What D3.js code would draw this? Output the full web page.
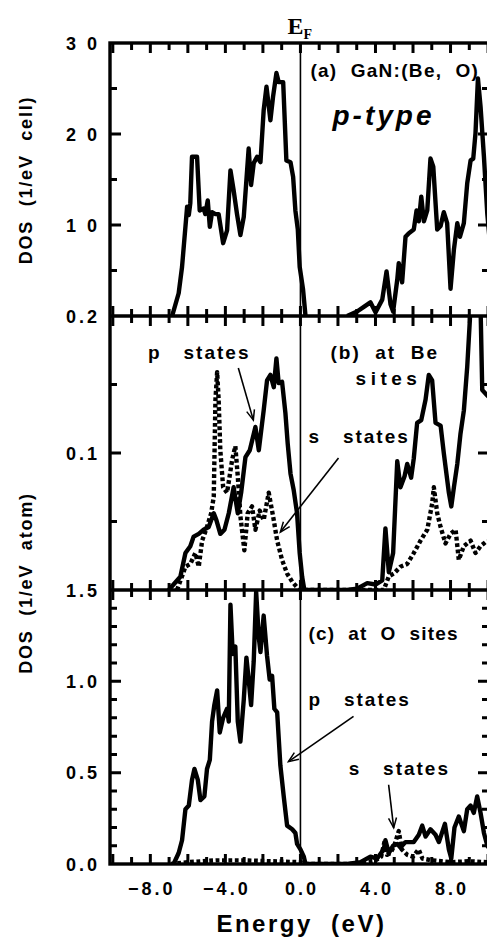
<!DOCTYPE html>
<html>
<head>
<meta charset="utf-8">
<script src="https://cdn.jsdelivr.net/npm/d3@7"></script>
<style>
body { margin: 0; background: #fff; }
svg text { font-family: "Liberation Sans", Arial, sans-serif; font-weight: bold; fill: #000; white-space: pre; }
</style>
</head>
<body>
<svg id="chart" width="487" height="938"></svg>
<script>
const ENERGY_DOMAIN = [-10.15, 10.05];
const energyLabels = [-8, -4, 0, 4, 8];
const energyMajor = [-10, -8, -6, -4, -2, 0, 2, 4, 6, 8, 10];
const energyMinor = [-9, -7, -5, -3, -1, 1, 3, 5, 7, 9];

// (a) total DOS of GaN:(Be, O)
const totalValence = [[-6.84,0],[-6.49,2.5],[-6.31,5.4],[-6.13,9.8],[-6.04,12.0],[-5.95,11.1],[-5.87,12.4],[-5.78,17.5],[-5.51,17.5],[-5.37,11.6],[-5.16,11.8],[-5.07,11.2],[-4.94,12.7],[-4.83,9.8],[-4.71,11.4],[-4.53,11.2],[-4.36,11.2],[-4.12,8.0],[-3.91,9.4],[-3.73,16.0],[-3.56,13.8],[-3.38,11.2],[-3.2,8.9],[-3.02,10.9],[-2.76,18.4],[-2.63,14.4],[-2.49,16.8],[-2.31,17.5],[-2.13,16.9],[-1.96,22.6],[-1.81,25.2],[-1.6,21.5],[-1.46,24.1],[-1.28,26.7],[-1.16,25.7],[-0.92,25.7],[-0.75,17.1],[-0.53,16.9],[-0.39,15.3],[-0.27,11.6],[-0.14,9.5],[-0.04,5.4],[0.14,2.9],[0.27,0]];
const totalConduction = [[2.49,0],[3.02,0.5],[3.38,1.0],[3.73,1.5],[4.0,0.4],[4.36,1.8],[4.59,4.9],[4.8,1.3],[4.94,0.5],[5.16,4.0],[5.24,5.8],[5.42,3.7],[5.6,8.7],[5.78,9.1],[6.04,9.5],[6.19,11.6],[6.31,10.4],[6.44,13.1],[6.58,10.4],[6.76,11.6],[6.93,17.3],[7.08,16.4],[7.29,9.5],[7.47,9.9],[7.64,11.4],[7.82,10.2],[8.0,3.0],[8.18,7.3],[8.36,10.2],[8.5,8.7],[8.71,10.2],[8.89,14.6],[9.07,17.1],[9.21,17.3],[9.33,20.1],[9.46,26.1],[9.6,23.0],[9.78,17.5],[9.96,11.2],[10.1,8.0]];

// (b) Be sites
const beP = [[-7.02,0],[-6.4,0.0097],[-6.13,0.027],[-5.87,0.032],[-5.69,0.039],[-5.42,0.041],[-5.16,0.044],[-4.89,0.046],[-4.62,0.056],[-4.48,0.051],[-4.27,0.041],[-4.05,0.044],[-3.82,0.056],[-3.56,0.075],[-3.34,0.056],[-3.16,0.071],[-2.93,0.097],[-2.7,0.102],[-2.4,0.119],[-2.22,0.102],[-1.96,0.131],[-1.78,0.153],[-1.6,0.157],[-1.42,0.148],[-1.28,0.169],[-1.16,0.151],[-0.98,0.152],[-0.8,0.129],[-0.68,0.107],[-0.53,0.085],[-0.36,0.073],[-0.18,0.056],[-0.04,0.027],[0.09,0.0097],[0.21,0],
  [2.49,0],[3.02,0.001],[3.56,0.005],[4.0,0.004],[4.36,0.007],[4.53,0.045],[4.71,0.013],[4.94,0.027],[5.16,0.094],[5.33,0.075],[5.55,0.083],[5.69,0.092],[5.9,0.082],[6.04,0.096],[6.22,0.122],[6.44,0.124],[6.67,0.139],[6.84,0.157],[7.02,0.153],[7.2,0.122],[7.47,0.12],[7.64,0.1],[7.91,0.071],[8.04,0.061],[8.18,0.075],[8.36,0.092],[8.53,0.114],[8.71,0.131],[8.89,0.163],[9.03,0.197],[9.1,0.24],[9.55,0.24],[9.69,0.146],[9.96,0.142],[10.1,0.14]];
const beS = [[-6.58,0],[-6.31,0.01],[-6.13,0.017],[-5.87,0.019],[-5.6,0.027],[-5.42,0.017],[-5.24,0.036],[-4.98,0.046],[-4.76,0.056],[-4.62,0.068],[-4.53,0.139],[-4.44,0.159],[-4.36,0.139],[-4.27,0.102],[-4.12,0.075],[-3.91,0.071],[-3.64,0.095],[-3.47,0.105],[-3.34,0.083],[-3.2,0.054],[-2.99,0.029],[-2.81,0.056],[-2.58,0.061],[-2.4,0.044],[-2.17,0.058],[-1.96,0.051],[-1.69,0.071],[-1.46,0.054],[-1.24,0.036],[-0.98,0.022],[-0.71,0.012],[-0.44,0.006],[-0.18,0.002],[0,0],
  [4.44,0],[4.71,0.01],[4.98,0.012],[5.33,0.017],[5.69,0.019],[6.04,0.027],[6.4,0.036],[6.76,0.044],[7.02,0.063],[7.11,0.075],[7.29,0.056],[7.47,0.046],[7.73,0.034],[8.0,0.041],[8.27,0.044],[8.44,0.022],[8.71,0.032],[9.07,0.036],[9.33,0.027],[9.6,0.032],[9.96,0.036]];

// (c) O sites
const oP = [[-6.76,0],[-6.49,0.06],[-6.31,0.13],[-6.13,0.30],[-5.95,0.32],[-5.78,0.46],[-5.65,0.52],[-5.47,0.46],[-5.33,0.35],[-5.12,0.37],[-4.98,0.52],[-4.83,0.57],[-4.71,0.78],[-4.59,0.87],[-4.44,0.95],[-4.3,0.72],[-4.12,0.80],[-3.91,0.85],[-3.82,0.78],[-3.73,1.42],[-3.61,1.15],[-3.47,1.19],[-3.34,0.78],[-3.2,0.67],[-3.02,0.90],[-2.88,1.13],[-2.76,1.01],[-2.63,0.87],[-2.49,1.11],[-2.36,1.49],[-2.22,1.24],[-2.13,1.16],[-1.96,1.36],[-1.78,1.14],[-1.64,1.01],[-1.51,1.03],[-1.39,0.85],[-1.24,0.83],[-1.07,0.54],[-0.89,0.37],[-0.71,0.21],[-0.44,0.19],[-0.27,0.17],[-0.18,0.11],[0,0.08],[0.18,0.04],[0.27,0],
  [2.49,0],[3.2,0.01],[3.73,0.04],[4.09,0.03],[4.44,0.08],[4.53,0.13],[4.71,0.06],[4.94,0.1],[5.16,0.11],[5.33,0.09],[5.6,0.12],[6.04,0.12],[6.31,0.16],[6.49,0.21],[6.67,0.15],[6.93,0.19],[7.2,0.16],[7.38,0.12],[7.7,0.22],[7.91,0.08],[8.04,0.03],[8.21,0.2],[8.44,0.26],[8.71,0.18],[8.89,0.3],[9.07,0.32],[9.24,0.28],[9.42,0.37],[9.6,0.28],[9.78,0.17],[9.96,0.1],[10.1,0.08]];
const oS = [[-6.9,0],[-6.0,0.01],[-4.5,0.02],[-3.0,0.02],[-1.5,0.015],[0,0.01],[0.3,0],
  [3.0,0],[3.5,0.01],[4.0,0.02],[4.3,0.04],[4.5,0.13],[4.62,0.05],[4.8,0.06],[5.0,0.1],[5.24,0.18],[5.4,0.08],[5.7,0.05],[6.0,0.04],[6.3,0.08],[6.5,0.03],[7.0,0.02],[7.5,0.015],[8.0,0.01],[9.0,0.015],[10.0,0.01]];

const panelDomains = [[0, 30], [0, 0.2], [0, 1.5]];
const tickValues = [[30, 20, 10], [0.2, 0.1], [1.5, 1.0, 0.5, 0.0]];
const tickLabels = [["3 0", "2 0", "1 0"], ["0.2", "0.1"], ["1.5", "1.0", "0.5", "0.0"]];
const majorTicks = [[10, 20], [0.1], [0.5, 1.0]];
const minorTicks = [[5, 15, 25], [0.05, 0.15], [0.1, 0.2, 0.3, 0.4, 0.6, 0.7, 0.8, 0.9, 1.1, 1.2, 1.3, 1.4]];

const svg = d3.select("#chart");
const left = 110, right = 489;
const bands = [[43, 316], [316, 590], [590, 864]];

const x = d3.scaleLinear().domain(ENERGY_DOMAIN).range([left, right]);
const ys = bands.map(function(b, i) {
    return d3.scaleLinear().domain(panelDomains[i]).range([b[1], b[0]]);
});

const defs = svg.append("defs");
bands.forEach(function(b, i) {
    defs.append("clipPath").attr("id", "clip" + i)
        .append("rect").attr("x", left).attr("y", b[0]).attr("width", right - left).attr("height", b[1] - b[0]);
});
defs.append("marker").attr("id", "arrow")
    .attr("viewBox", "-12 -6 14 12").attr("refX", 0).attr("refY", 0)
    .attr("markerWidth", 14).attr("markerHeight", 12)
    .attr("markerUnits", "userSpaceOnUse").attr("orient", "auto")
    .append("path").attr("d", "M-10,-4L0,0L-10,4")
    .attr("fill", "none").attr("stroke", "#000").attr("stroke-width", 1.5);

function drawCurve(i, data, dotted) {
    var line = d3.line()
        .x(function(d) { return x(d[0]); })
        .y(function(d) { return ys[i](d[1]); });
    svg.append("path")
        .datum(data)
        .attr("clip-path", "url(#clip" + i + ")")
        .attr("d", line)
        .attr("fill", "none")
        .attr("stroke", "#000")
        .attr("stroke-width", 4.4)
        .attr("stroke-linejoin", "round")
        .attr("stroke-dasharray", dotted ? "3.8 2.6" : null);
}

drawCurve(0, totalValence);
drawCurve(0, totalConduction);
drawCurve(1, beS, true);
drawCurve(1, beP);
drawCurve(2, oS, true);
drawCurve(2, oP);

// frame
svg.append("rect")
    .attr("x", left).attr("y", bands[0][0])
    .attr("width", right - left).attr("height", bands[2][1] - bands[0][0])
    .attr("fill", "none").attr("stroke", "#000").attr("stroke-width", 3.4);
[bands[1][0], bands[2][0]].forEach(function(yy) {
    svg.append("line").attr("x1", left).attr("x2", right).attr("y1", yy).attr("y2", yy)
        .attr("stroke", "#000").attr("stroke-width", 3.4);
});

// inward ticks, one path per panel
bands.forEach(function(b, i) {
    var y = ys[i];
    var p = d3.path();
    energyMajor.concat(energyMinor).forEach(function(e) {
        var len = energyMajor.indexOf(e) >= 0 ? 10 : 7;
        p.moveTo(x(e), b[0]); p.lineTo(x(e), b[0] + len);
        p.moveTo(x(e), b[1]); p.lineTo(x(e), b[1] - len);
    });
    majorTicks[i].concat(minorTicks[i]).forEach(function(v) {
        var len = majorTicks[i].indexOf(v) >= 0 ? 11 : 7;
        p.moveTo(left, y(v)); p.lineTo(left + len, y(v));
        p.moveTo(right, y(v)); p.lineTo(right - len, y(v));
    });
    svg.append("path")
        .attr("d", p.toString())
        .attr("fill", "none")
        .attr("stroke", "#000")
        .attr("stroke-width", 3);

    tickValues[i].forEach(function(v, k) {
        svg.append("text")
            .attr("x", 100).attr("y", y(v) + 6.5)
            .attr("text-anchor", "end")
            .attr("font-size", 18).attr("letter-spacing", 3)
            .text(tickLabels[i][k]);
    });
});

// Fermi level
svg.append("line")
    .attr("x1", x(0)).attr("x2", x(0)).attr("y1", bands[0][0]).attr("y2", bands[2][1])
    .attr("stroke", "#000").attr("stroke-width", 1.6);
var ef = svg.append("text").attr("x", x(0) - 13).attr("y", 34)
    .style("font-family", "'Liberation Serif', 'DejaVu Serif', serif").attr("font-size", 24);
ef.append("tspan").text("E");
ef.append("tspan").attr("font-size", 14).attr("dy", 5).text("F");

// energy axis labels
energyLabels.forEach(function(e) {
    svg.append("text")
        .attr("x", x(e) + 1.5).attr("y", 895)
        .attr("text-anchor", "middle")
        .attr("font-size", 18).attr("letter-spacing", 3)
        .text(d3.format(".1f")(e));
});
svg.append("text").attr("x", x(0) + 1).attr("y", 932)
    .attr("text-anchor", "middle").attr("font-size", 24).attr("letter-spacing", 2.5)
    .text("Energy  (eV)");

svg.append("text").attr("transform", "translate(32,180) rotate(-90)")
    .attr("text-anchor", "middle").attr("font-size", 18).attr("letter-spacing", 1.8)
    .text("DOS  (1/eV  cell)");
svg.append("text").attr("transform", "translate(32,583) rotate(-90)")
    .attr("text-anchor", "middle").attr("font-size", 18).attr("letter-spacing", 1.8)
    .text("DOS  (1/eV  atom)");

// annotations, in data units of each panel
const labels = [
    [0, 0.53, 26.3, "(a)  GaN:(Be,  O)", 1.3],
    [1, -8.12, 0.1686, "p   states", 2],
    [1, 1.6, 0.1686, "(b)  at  Be", 2],
    [1, 2.94, 0.1496, "sites", 4.5],
    [1, 0.43, 0.1073, "s   states", 2],
    [2, 0.43, 1.225, "(c)  at  O  sites", 1.2],
    [2, 0.43, 0.863, "p   states", 2],
    [2, 2.57, 0.489, "s   states", 2]
];
labels.forEach(function(l) {
    svg.append("text")
        .attr("x", x(l[1])).attr("y", ys[l[0]](l[2]))
        .attr("font-size", 19).attr("letter-spacing", l[4])
        .text(l[3]);
});
svg.append("text")
    .attr("x", x(1.71)).attr("y", ys[0](21.0))
    .attr("font-size", 28).attr("font-style", "italic").attr("letter-spacing", 3)
    .text("p-type");

const arrows = [
    [1, -3.31, 0.162, -2.51, 0.124],
    [1, 2.03, 0.0964, -1.07, 0.0423],
    [2, 2.83, 0.808, -0.64, 0.56],
    [2, 4.70, 0.434, 4.97, 0.198]
];
arrows.forEach(function(a) {
    svg.append("line")
        .attr("x1", x(a[1])).attr("y1", ys[a[0]](a[2]))
        .attr("x2", x(a[3])).attr("y2", ys[a[0]](a[4]))
        .attr("stroke", "#000").attr("stroke-width", 1.6)
        .attr("marker-end", "url(#arrow)");
});
</script>
</body>
</html>
